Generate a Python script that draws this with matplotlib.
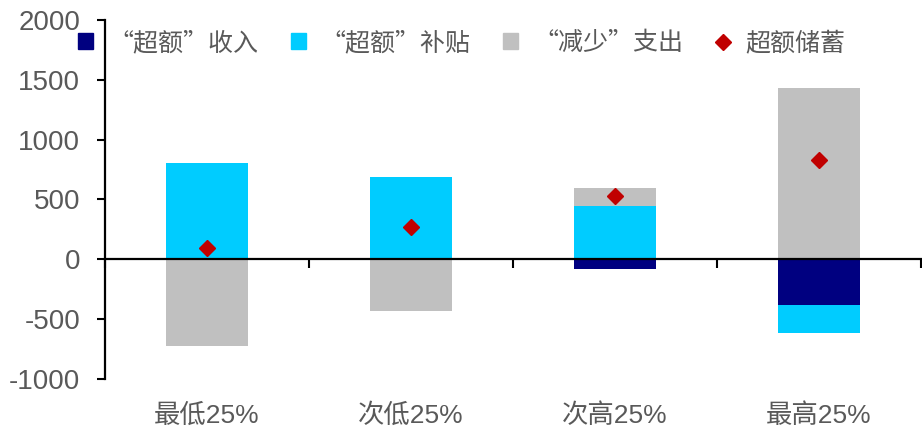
import matplotlib
matplotlib.use("Agg")
import matplotlib.pyplot as plt
import numpy as np
from matplotlib.lines import Line2D
from matplotlib.patches import Patch

plt.rcParams["axes.unicode_minus"] = False

categories = ["最低25%", "次低25%", "次高25%", "最高25%"]
income = [0, -8, -78, -383]        # “超额”收入
subsidy = [808, 692, 446, -231]    # “超额”补贴
spending = [-725, -420, 148, 1433] # “减少”支出
savings = [94, 269, 525, 828]      # 超额储蓄

series_names = ["“超额”收入", "“超额”补贴", "“减少”支出"]
series_colors = ["#000080", "#00CCFF", "#C0C0C0"]
txt_color = "#595959"
cjk = ["Noto Sans CJK SC", "DejaVu Sans"]
latin = ["Liberation Sans", "DejaVu Sans"]
mixed = ["Liberation Sans", "Noto Sans CJK SC", "DejaVu Sans"]

fig = plt.figure(figsize=(9.22, 4.29), dpi=100)
ax = fig.add_axes([0.114, 0.1166, 0.885, 0.8368])

x = np.arange(len(categories))
pos = np.zeros(len(categories))
neg = np.zeros(len(categories))
for vals, col in zip([income, subsidy, spending], series_colors):
    v = np.array(vals, dtype=float)
    bottom = np.where(v >= 0, pos, neg)
    ax.bar(x, v, bottom=bottom, width=0.40, color=col, zorder=2)
    pos = pos + np.where(v >= 0, v, 0)
    neg = neg + np.where(v < 0, v, 0)

ax.plot(x, savings, linestyle="none", marker="D", markersize=8,
        color="#C00000", zorder=4)

ax.set_xlim(-0.5, len(categories) - 0.5)
ax.set_ylim(-1000, 2000)
ax.set_yticks(np.arange(-1000, 2001, 500))
ax.tick_params(axis="y", direction="out", length=6, width=1.5, colors="black",
               labelcolor=txt_color, labelsize=20, pad=12)
for lab in ax.get_yticklabels():
    lab.set_family(latin)

ax.spines["top"].set_visible(False)
ax.spines["right"].set_visible(False)
ax.spines["left"].set_linewidth(1.6)
ax.spines["bottom"].set_position(("data", 0))
ax.spines["bottom"].set_linewidth(1.6)
ax.spines["bottom"].set_zorder(3)
ax.set_xticks(np.arange(-0.5, len(categories), 1.0))
ax.tick_params(axis="x", direction="out", length=6.5, width=1.5, labelbottom=False)

for xi, c in zip(x, categories):
    ax.text(xi, -0.102, c, transform=ax.get_xaxis_transform(), ha="center",
            va="center", fontsize=19, color=txt_color, family=mixed)

handles = [Patch(color=c) for c in series_colors]
handles.append(Line2D([], [], linestyle="none", marker="D", markersize=8,
                      color="#C00000"))
leg = fig.legend(handles, series_names + ["超额储蓄"], loc="center",
                 bbox_to_anchor=(0.501, 0.9), ncol=4, frameon=False,
                 prop={"family": cjk, "size": 18}, handlelength=0.6,
                 handleheight=0.6, handletextpad=0.6, columnspacing=1.3,
                 labelcolor=txt_color)

fig.savefig("out.png", dpi=100)
